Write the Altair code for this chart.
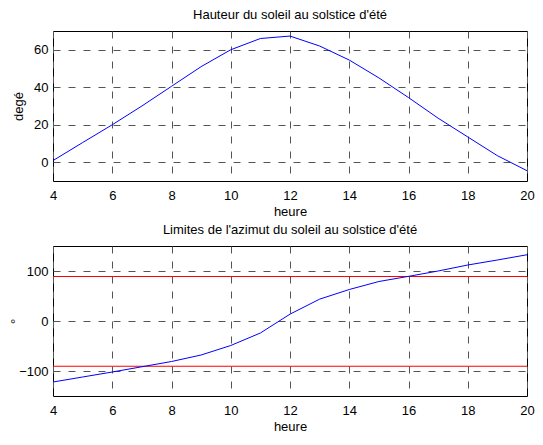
import altair as alt
import pandas as pd

# ---- data ----
hours = [4, 5, 6, 7, 8, 9, 10, 11, 12, 13, 14, 15, 16, 17, 18, 19, 20]
hauteur = [0.9, 10.5, 20.0, 30.0, 40.5, 51.0, 60.0, 66.0, 67.3, 62.0, 54.5,
           45.0, 34.5, 23.5, 13.5, 3.5, -4.5]
azimut = [-122.0, -112.0, -102.0, -91.5, -81.0, -68.0, -49.0, -24.0, 13.7,
          43.7, 63.0, 79.0, 89.3, 100.0, 112.0, 122.0, 132.5]
limites = [89.0, -90.5]
x_ticks = [4, 6, 8, 10, 12, 14, 16, 18, 20]
y1_ticks = [0, 20, 40, 60]
y2_ticks = [-100, 0, 100]

FONT = "Liberation Sans"
W, H = 474, 150

df1 = pd.DataFrame({"heure": hours, "val": hauteur})
df2 = pd.DataFrame({"heure": hours, "val": azimut})
dfl = pd.DataFrame({"val": limites})

xscale = alt.Scale(domain=[4, 20], nice=False, zero=False)


def x_axis():
    return alt.Axis(values=x_ticks, title="heure", grid=True, ticks=False,
                    domain=False, labelPadding=8, labelFlush=False,
                    labelOverlap=False, titleX=W / 2, titleY=24,
                    titleBaseline="top", titleAlign="center")


def y_axis(vals, title, tx, base):
    return alt.Axis(values=vals, title=title, grid=True, ticks=False,
                    domain=False, labelPadding=5, labelOverlap=False,
                    labelFlush=False, titleX=tx, titleY=H / 2,
                    titleAngle=270, titleBaseline=base, titleAlign="center")


def ttl(text):
    return alt.TitleParams(text, font=FONT, fontSize=13, fontWeight="normal",
                           color="black", anchor="middle", frame="group",
                           baseline="bottom", offset=-4)


top = alt.Chart(df1).mark_line(color="#0000ff", strokeWidth=1).encode(
    x=alt.X("heure:Q", scale=xscale, axis=x_axis()),
    y=alt.Y("val:Q", scale=alt.Scale(domain=[-10, 70], nice=False, zero=False),
            axis=y_axis(y1_ticks, "degé", -35, "middle")),
).properties(width=W, height=H, title=ttl("Hauteur du soleil au solstice d'été"))

y2scale = alt.Scale(domain=[-150, 150], nice=False, zero=False)
line2 = alt.Chart(df2).mark_line(color="#0000ff", strokeWidth=1).encode(
    x=alt.X("heure:Q", scale=xscale, axis=x_axis()),
    y=alt.Y("val:Q", scale=y2scale, axis=y_axis(y2_ticks, "°", -44, "top")),
)
rules = alt.Chart(dfl).mark_rule(color="#ff0000", strokeWidth=1).encode(
    y=alt.Y("val:Q", scale=y2scale, axis=y_axis(y2_ticks, "°", -44, "top")),
)
bottom = alt.layer(rules, line2).properties(
    width=W, height=H, title=ttl("Limites de l'azimut du soleil au solstice d'été"))

chart = alt.vconcat(top, bottom, spacing=65, bounds="flush").properties(
    padding={"left": 0, "top": 0, "right": 0, "bottom": 0},
    background="white",
).configure_view(
    stroke="black", strokeWidth=1
).configure_axis(
    labelFont=FONT, labelFontSize=13, labelColor="black",
    titleFont=FONT, titleFontSize=13, titleFontWeight="normal", titleColor="black",
    gridColor="#555555", gridDash=[7, 8], gridWidth=1, gridOpacity=1,
)

chart.save("out.html", embed_options={"renderer": "svg", "actions": False})
